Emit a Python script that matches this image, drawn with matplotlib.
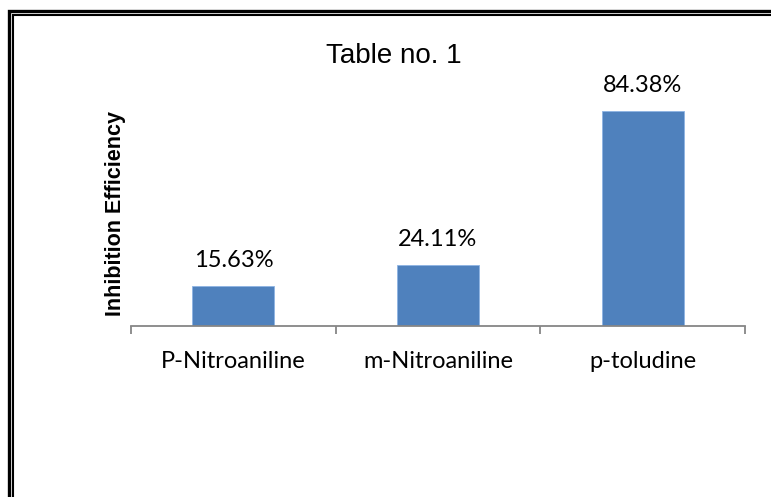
import matplotlib
matplotlib.use("Agg")
from matplotlib import pyplot as plt
from matplotlib.patches import Rectangle

compounds = ["P-Nitroaniline", "m-Nitroaniline", "p-toludine"]
efficiency = [15.63, 24.11, 84.38]
value_labels = ["15.63%", "24.11%", "84.38%"]

W, H = 771, 497
fig = plt.figure(figsize=(W / 100, H / 100), dpi=100)

# axes placed in pixel terms: x-axis at y=326, spanning x=131..745
left, right, bottom, top = 131, 745, 326, 40
ax = fig.add_axes([left / W, 1 - bottom / H, (right - left) / W, (bottom - top) / H])

x = range(len(compounds))
ax.bar(x, efficiency, width=0.4, color="#4F81BD", edgecolor="#8EB4E3", linewidth=0.6)
ax.set_xlim(-0.5, 2.5)
ymax = 84.38 * (bottom - top) / (326 - 111)
ax.set_ylim(0, ymax)

for xi, v, lab in zip(x, efficiency, value_labels):
    ax.annotate(lab, (xi, v), xytext=(0, 13.5), textcoords="offset points",
                ha="center", va="baseline", fontsize=17, family="Lato")

for side in ["top", "right", "left"]:
    ax.spines[side].set_visible(False)
ax.spines["bottom"].set_color("#868686")
ax.spines["bottom"].set_linewidth(1.3)
ax.set_yticks([])
ax.set_xticks([-0.5, 0.5, 1.5, 2.5])
ax.set_xticklabels([])
ax.tick_params(axis="x", length=6, width=1.3, color="#868686")
for xi, name in zip(x, compounds):
    ax.annotate(name, (xi, 0), xytext=(0, -30.2), textcoords="offset points",
                ha="center", va="baseline", fontsize=17, family="Lato")

ax.set_ylabel("Inhibition Efficiency", fontsize=15.5, fontweight="bold",
              family="Liberation Sans")
ax.yaxis.set_label_coords((126 - left) / (right - left), (bottom - 214) / (bottom - top))
fig.text(394 / W, 1 - 63 / H, "Table no. 1", ha="center", va="baseline",
         fontsize=20, family="Liberation Sans")

# double frame around the chart
fig.patches.append(Rectangle((8.5 / W, -0.2), 1.2, 1 - 10.5 / H + 0.2, transform=fig.transFigure,
                             fill=False, edgecolor="black", linewidth=2.4))
fig.patches.append(Rectangle((13 / W, -0.2), 1.2, 1 - 14.7 / H + 0.2, transform=fig.transFigure,
                             fill=False, edgecolor="black", linewidth=1.5))

fig.savefig("out.png", dpi=100)
